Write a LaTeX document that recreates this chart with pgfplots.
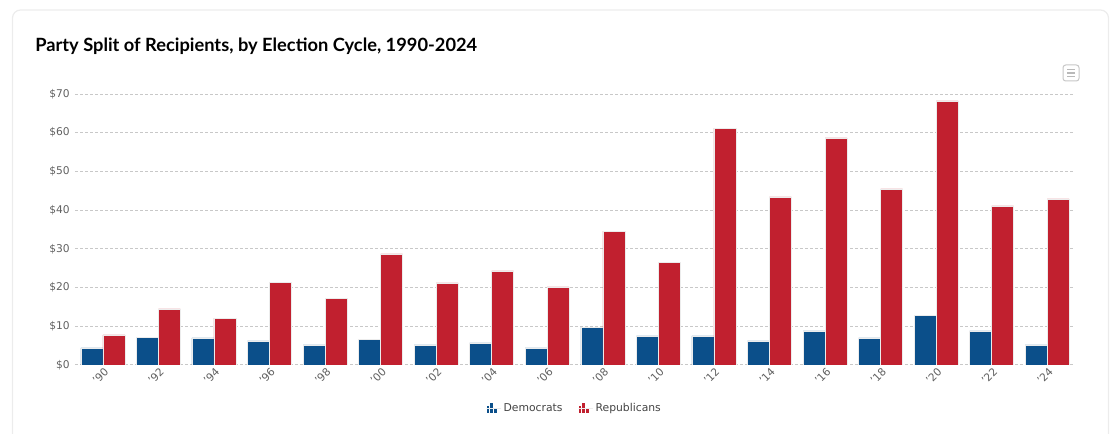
\documentclass[border=0pt]{standalone}
\usepackage{fontspec}
\setmainfont{DejaVu Sans}
\newfontfamily\titlefont{Lato}
\usepackage{pgfplots}
\usepackage{pgfplotstable}
\pgfplotsset{compat=1.18}
\definecolor{dem}{HTML}{0B4F8A}
\definecolor{rep}{HTML}{C1202F}
\definecolor{ticktxt}{HTML}{606060}
\definecolor{legtxt}{HTML}{444444}
\definecolor{gridc}{HTML}{C8C8C8}
\definecolor{cardc}{HTML}{ECECEC}

\pgfplotstableread{
x D R
0 4.4 7.8
1 7.2 14.5
2 7.0 12.1
3 6.2 21.4
4 5.2 17.3
5 6.7 28.7
6 5.2 21.2
7 5.7 24.3
8 4.4 20.2
9 9.8 34.6
10 7.5 26.6
11 7.5 61.2
12 6.2 43.4
13 8.8 58.7
14 7.0 45.5
15 12.9 68.2
16 8.8 41.1
17 5.2 42.9
}\partydata

\pgfplotsset{
  myleg/.style={legend image code/.code={
    \fill[##1,draw=none] (0pt,-3.75pt) rectangle (2pt,1.5pt);
    \fill[##1,draw=none] (2.75pt,-3.75pt) rectangle (4.75pt,3.75pt);
    \fill[##1,draw=none] (5.5pt,-3.75pt) rectangle (7.5pt,-0.75pt);
    \path (0pt,0pt) -- (10.5pt,0pt);
  }}
}

\begin{document}
\begin{tikzpicture}
\begin{scope}[x=0.75pt,y=-0.75pt]
\useasboundingbox (0,0) rectangle (1111,434);
\draw[cardc, line width=0.9pt, rounded corners=6pt] (12.5,10) rectangle (1108.5,480);
\node[anchor=base west, inner sep=0pt, font=\titlefont\bfseries\fontsize{13.7}{16}\selectfont] at (35,52) {Party Split of Recipients, by Election Cycle, 1990-2024};
\draw[gray!45, line width=0.75pt, rounded corners=2pt] (1063,65) rectangle (1079,81);
\draw[gray!55, line width=1pt] (1067,69.5)--(1075,69.5) (1067,73)--(1075,73) (1067,76.5)--(1075,76.5);
\end{scope}
\begin{axis}[
  at={(56.25pt,-273.75pt)}, anchor=south west,
  width=750pt, height=203.25pt, scale only axis,
  xmin=-0.5, xmax=17.5, ymin=0, ymax=70,
  bar width=16.5pt,
  axis line style={draw=none},
  tick style={draw=none},
  ymajorgrids,
  major grid style={gridc, line width=0.75pt, dash pattern=on 2.25pt off 1.5pt},
  ytick={0,10,...,70},
  yticklabels={\$0,\$10,\$20,\$30,\$40,\$50,\$60,\$70},
  yticklabel style={font=\fontsize{8}{10}\selectfont, text=ticktxt, inner sep=0pt, xshift=-3.75pt},
  xtick={0,...,17},
  xticklabels={'90,'92,'94,'96,'98,'00,'02,'04,'06,'08,'10,'12,'14,'16,'18,'20,'22,'24},
  xticklabel style={font=\fontsize{8}{10}\selectfont, text=ticktxt, rotate=45, anchor=east, inner sep=0pt, xshift=-0.5pt, yshift=-4.5pt},
  legend style={at={(0.5,-0.159)}, anchor=center, draw=none, fill=none,
    font=\fontsize{8.1}{10}\selectfont, text=legtxt, legend columns=2,
    /tikz/every even column/.append style={column sep=10pt}},
  legend cell align=left,
]
\addplot[ybar, bar shift=-8.25pt, fill=dem, draw=white!85!gray, line width=0.3pt, myleg] table[x=x,y=D] {\partydata};
\addlegendentry{Democrats}
\addplot[ybar, bar shift=8.25pt, fill=rep, draw=white!85!gray, line width=0.3pt, myleg] table[x=x,y=R] {\partydata};
\addlegendentry{Republicans}
\end{axis}
\end{tikzpicture}
\end{document}
